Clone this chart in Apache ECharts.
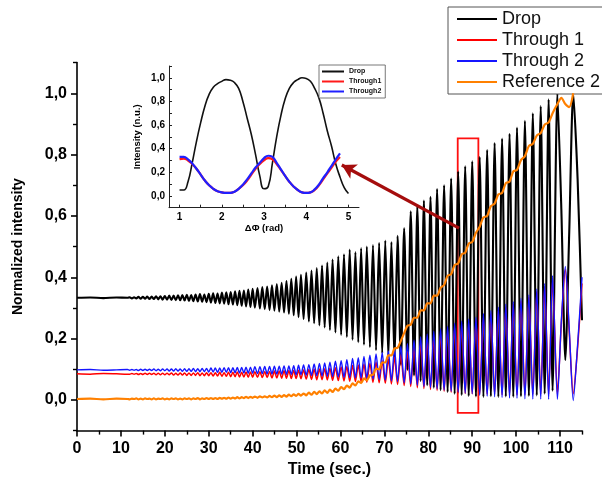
<!DOCTYPE html>
<html>
<head>
<meta charset="utf-8">
<script src="https://cdn.jsdelivr.net/npm/echarts@6/dist/echarts.min.js"></script>
<style>
html,body{margin:0;padding:0;background:#fff;}
#chart{width:602px;height:486px;}
</style>
</head>
<body>
<div id="chart"></div>
<script>
// ---------- Main chart data (times of successive extrema, seconds) ----------
const tExt = [
  0,3,6,9,11.5,
  12,12.5,13,13.5,14,14.5,15,15.5,16,16.5,17,17.5,18,18.5,19,19.5,20,20.5,21,21.5,22,22.5,23,23.5,24,24.5,25,25.5,26,26.5,27,27.5,28,28.5,29,29.5,30,30.5,31,31.5,32,32.5,33,33.5,34,34.5,35,35.5,36,36.5,37,37.5,38,38.5,39,39.5,40,40.5,
  41.1,41.65,42.2,42.75,43.3,43.85,44.4,44.95,45.5,46.05,46.6,47.15,47.7,48.25,48.8,49.35,49.9,50.45,51.0,51.6,
  52.2,52.8,53.4,54.0,54.6,55.2,55.8,56.4,57.0,57.6,58.2,58.85,
  59.5,60.15,60.8,61.45,62.1,62.75,63.4,64.05,64.7,65.35,66.0,66.7,
  67.4,68.1,68.8,69.5,70.2,70.9,71.6,72.3,73.0,73.75,
  74.5,75.25,76.0,76.75,77.5,78.25,79.0,79.75,80.5,81.25,82.0,82.8,
  83.6,84.4,85.2,86.0,86.8,87.6,88.4,89.2,90.0,90.85,
  91.7,92.55,93.4,94.25,95.1,95.95,96.8,97.65,98.5,99.35,100.2,101.1,
  102.0,102.9,103.8,104.7,105.6,106.5,107.4,108.3,
  109.4,110.3,111.2,112.1,113.0,114.0,115.0
];
const drop = [
  0.333,0.334,0.332,0.334,0.333,
  0.335,0.331,0.335,0.331,0.336,0.330,0.336,0.330,0.337,0.329,0.337,0.329,0.338,0.328,0.338,0.327,0.339,0.327,0.340,0.326,0.340,0.325,0.341,0.325,0.342,0.324,0.343,0.323,0.342,0.322,0.344,0.321,0.345,0.320,0.344,0.319,0.346,0.317,0.348,0.316,0.347,0.315,0.350,0.314,0.351,0.312,0.352,0.311,0.354,0.309,0.356,0.307,0.357,0.305,0.360,0.303,0.362,0.301,
  0.365,0.298,0.368,0.296,0.370,0.293,0.374,0.291,0.378,0.288,0.382,0.285,0.388,0.281,0.395,0.276,0.402,0.270,0.408,0.264,
  0.415,0.256,0.422,0.250,0.430,0.243,0.438,0.236,0.448,0.228,0.458,0.220,
  0.468,0.212,0.475,0.205,0.490,0.196,0.482,0.188,0.495,0.180,0.500,0.172,
  0.505,0.162,0.512,0.152,0.520,0.140,0.515,0.128,0.535,0.115,
  0.560,0.098,0.615,0.080,0.630,0.062,0.650,0.048,0.662,0.040,0.688,0.032,
  0.700,0.026,0.722,0.020,0.745,0.016,0.762,0.013,0.778,0.011,
  0.792,0.010,0.815,0.012,0.838,0.010,0.852,0.011,0.868,0.010,0.888,0.012,
  0.910,0.013,0.935,0.015,0.958,0.020,0.980,0.030,
  1.000,0.620,0.130,0.550,1.000,0.720,0.260
];
const through1 = [
  0.085,0.084,0.086,0.085,0.084,
  0.084,0.086,0.084,0.086,0.083,0.086,0.083,0.087,0.083,0.087,0.083,0.087,0.082,0.087,0.082,0.087,0.082,0.087,0.082,0.088,0.081,0.087,0.081,0.088,0.081,0.088,0.080,0.088,0.080,0.088,0.080,0.089,0.079,0.088,0.079,0.089,0.079,0.089,0.078,0.089,0.078,0.090,0.077,0.089,0.077,0.090,0.076,0.090,0.076,0.091,0.075,0.090,0.075,0.091,0.074,0.091,0.074,0.092,
  0.074,0.092,0.073,0.093,0.073,0.093,0.072,0.094,0.072,0.094,0.071,0.095,0.071,0.096,0.070,0.096,0.070,0.097,0.069,0.098,
  0.068,0.099,0.067,0.100,0.066,0.101,0.066,0.102,0.065,0.103,0.064,0.105,
  0.063,0.107,0.062,0.109,0.061,0.112,0.060,0.114,0.059,0.117,0.058,0.120,
  0.057,0.124,0.056,0.128,0.054,0.134,0.052,0.140,0.050,0.148,
  0.047,0.158,0.044,0.172,0.040,0.185,0.037,0.196,0.034,0.205,0.031,0.215,
  0.028,0.225,0.025,0.235,0.023,0.243,0.021,0.250,0.020,0.258,
  0.019,0.268,0.018,0.280,0.018,0.292,0.017,0.302,0.017,0.312,0.017,0.322,
  0.017,0.335,0.018,0.352,0.018,0.368,0.018,0.392,
  0.020,0.250,0.425,0.220,0.020,0.170,0.380
];
const through2 = [
  0.098,0.099,0.097,0.098,0.099,
  0.097,0.099,0.097,0.099,0.096,0.100,0.096,0.100,0.096,0.100,0.096,0.101,0.095,0.100,0.095,0.101,0.095,0.101,0.094,0.101,0.094,0.102,0.094,0.101,0.093,0.102,0.093,0.102,0.093,0.103,0.092,0.102,0.092,0.103,0.092,0.103,0.091,0.104,0.091,0.104,0.090,0.104,0.090,0.105,0.090,0.105,0.089,0.105,0.089,0.106,0.088,0.106,0.088,0.107,0.087,0.107,0.087,0.108,
  0.086,0.108,0.086,0.109,0.085,0.109,0.085,0.110,0.084,0.110,0.084,0.111,0.083,0.111,0.083,0.112,0.082,0.113,0.082,0.114,
  0.081,0.115,0.080,0.117,0.079,0.119,0.078,0.121,0.077,0.123,0.076,0.126,
  0.075,0.128,0.074,0.131,0.073,0.135,0.072,0.138,0.071,0.142,0.070,0.146,
  0.068,0.150,0.066,0.155,0.064,0.160,0.062,0.167,0.060,0.175,
  0.056,0.183,0.052,0.195,0.048,0.206,0.044,0.215,0.040,0.224,0.036,0.232,
  0.032,0.240,0.028,0.250,0.025,0.257,0.022,0.263,0.020,0.270,
  0.015,0.282,0.012,0.292,0.010,0.302,0.008,0.312,0.006,0.320,0.005,0.332,
  0.004,0.342,0.003,0.362,0.003,0.380,0.002,0.405,
  0.002,0.260,0.435,0.230,-0.002,0.180,0.400
];
const reference2 = [
  0.003,0.004,0.002,0.004,0.003,
  0.002,0.004,0.003,0.005,0.002,0.004,0.002,0.005,0.003,0.004,0.002,0.005,0.002,0.004,0.003,0.005,0.002,0.004,0.002,0.005,0.003,0.005,0.002,0.004,0.002,0.005,0.003,0.005,0.002,0.005,0.003,0.006,0.002,0.005,0.003,0.006,0.003,0.006,0.003,0.006,0.003,0.007,0.004,0.007,0.004,0.008,0.004,0.008,0.005,0.009,0.005,0.009,0.006,0.010,0.006,0.010,0.007,0.011,
  0.007,0.012,0.008,0.012,0.008,0.013,0.009,0.014,0.009,0.015,0.010,0.016,0.011,0.017,0.012,0.018,0.013,0.020,0.014,0.021,
  0.015,0.024,0.017,0.026,0.019,0.028,0.021,0.031,0.023,0.034,0.026,0.037,
  0.030,0.042,0.035,0.047,0.040,0.054,0.047,0.061,0.055,0.070,0.064,0.080,
  0.082,0.102,0.100,0.122,0.122,0.145,0.145,0.168,0.170,0.193,
  0.218,0.242,0.245,0.268,0.268,0.292,0.292,0.315,0.315,0.340,0.340,0.366,
  0.375,0.405,0.410,0.440,0.445,0.475,0.480,0.510,0.515,0.545,
  0.565,0.595,0.600,0.632,0.640,0.670,0.675,0.707,0.712,0.745,0.750,0.782,
  0.795,0.828,0.835,0.862,0.870,0.898,0.905,0.935,
  0.965,0.985,0.965,0.955,1.000,null,null
];

// ---------- Inset data (phase in rad) ----------
const insetPhase = [1.0,1.1,1.2,1.3,1.4,1.5,1.6,1.7,1.8,1.9,2.0,2.1,2.2,2.3,2.4,2.5,2.6,2.7,2.8,2.9,3.0,3.1,3.2,3.3,3.4,3.5,3.6,3.7,3.8,3.9,4.0,4.1,4.2,4.3,4.4,4.5,4.6,4.7,4.8,4.9,5.0];
const insetDrop = [0.05,0.05,0.12,0.28,0.46,0.62,0.76,0.86,0.92,0.95,0.97,0.985,0.98,0.96,0.91,0.80,0.66,0.52,0.35,0.17,0.06,0.08,0.28,0.50,0.68,0.82,0.91,0.96,0.985,1.0,0.995,0.97,0.91,0.83,0.70,0.55,0.42,0.27,0.16,0.07,0.02];
const insetThrough1 = [0.31,0.315,0.30,0.27,0.23,0.18,0.13,0.09,0.06,0.04,0.03,0.025,0.025,0.035,0.06,0.09,0.13,0.18,0.23,0.27,0.30,0.32,0.31,0.27,0.22,0.17,0.12,0.08,0.05,0.03,0.025,0.03,0.05,0.09,0.14,0.19,0.24,0.29,0.33];
const insetThrough2 = [0.33,0.33,0.31,0.275,0.23,0.18,0.13,0.09,0.06,0.04,0.03,0.025,0.025,0.035,0.06,0.095,0.14,0.19,0.24,0.28,0.32,0.34,0.33,0.28,0.225,0.17,0.12,0.08,0.05,0.03,0.025,0.03,0.055,0.095,0.15,0.20,0.255,0.31,0.36];

// ---------- Ticks ----------
const xMajorTicks = [0,10,20,30,40,50,60,70,80,90,100,110];
const xMinorTicks = [5,15,25,35,45,55,65,75,85,95,105,115];
const yMajorTicks = [0,0.2,0.4,0.6,0.8,1.0];
const yMinorTicks = [-0.1,0.1,0.3,0.5,0.7,0.9,1.1];
const insetXLabels = [1,2,3,4,5];
const insetXTicks = [1,1.5,2,2.5,3,3.5,4,4.5,5];
const insetYTicks = [-0.1,0,0.1,0.2,0.3,0.4,0.5,0.6,0.7,0.8,0.9,1.0,1.1];

// ---------- Annotations (data coordinates) ----------
const arrowFrom = [87.0, 0.56];
const arrowTo = [60.3, 0.766];
const boxCorner1 = [86.7, 0.853];
const boxCorner2 = [91.4, -0.042];

const FONT = 'Liberation Sans, Arial, sans-serif';
const comma = v => Number(v).toFixed(1).replace('.', ',');
function pairs(xs, ys){
  const out = [];
  for (let i = 0; i < ys.length; i++) if (ys[i] !== null) out.push([xs[i], ys[i]]);
  return out;
}

const chart = echarts.init(document.getElementById('chart'), null, {renderer:'canvas'});
const mainLine = (name, data, color, w, z, extra) => Object.assign({
  name, type:'line', xAxisIndex:0, yAxisIndex:0, data, showSymbol:false, symbol:'none',
  smooth:0.25, sampling:null, z, color,
  lineStyle:{color, width:w}, emphasis:{disabled:true}
}, extra||{});
const insetLine = (name, data, color, w, z) => ({
  name, type:'line', xAxisIndex:2, yAxisIndex:2, data, showSymbol:false, symbol:'none',
  smooth:true, z, color, lineStyle:{color, width:w}, emphasis:{disabled:true}
});

const option = {
  animation:false,
  backgroundColor:'#ffffff',
  textStyle:{fontFamily:FONT},
  grid:[
    {left:77, top:62.6, width:505, height:368},
    {left:169, top:66, width:190, height:141.7}
  ],
  xAxis:[
    {gridIndex:0, type:'value', min:0, max:115, position:'bottom', offset:0,
     axisLine:{show:true, onZero:false, lineStyle:{color:'#000', width:1.6}},
     axisTick:{show:true, inside:false, length:6, customValues:xMajorTicks, lineStyle:{color:'#000', width:1.6}},
     axisLabel:{show:true, customValues:xMajorTicks, margin:10, color:'#000', fontSize:16, fontWeight:'bold', fontFamily:FONT},
     splitLine:{show:false},
     name:'Time (sec.)', nameLocation:'middle', nameGap:30,
     nameTextStyle:{color:'#000', fontSize:16, fontWeight:'bold', fontFamily:FONT}},
    {gridIndex:0, type:'value', min:0, max:115, position:'bottom', offset:0,
     axisLine:{show:false, onZero:false},
     axisTick:{show:true, inside:false, length:4, customValues:xMinorTicks, lineStyle:{color:'#000', width:1.4}},
     axisLabel:{show:false}, splitLine:{show:false}},
    {gridIndex:1, type:'value', min:0.75, max:5.25, position:'bottom', offset:0,
     axisLine:{show:true, onZero:false, lineStyle:{color:'#222', width:1}},
     axisTick:{show:true, inside:true, length:3, customValues:insetXTicks, lineStyle:{color:'#222', width:1}},
     axisLabel:{show:true, customValues:insetXLabels, margin:5, color:'#000', fontSize:10, fontWeight:'bold', fontFamily:FONT},
     splitLine:{show:false},
     name:'\u0394\u03A6 (rad)', nameLocation:'middle', nameGap:16,
     nameTextStyle:{color:'#000', fontSize:9.5, fontWeight:'bold', fontFamily:FONT}}
  ],
  yAxis:[
    {gridIndex:0, type:'value', min:-0.1, max:1.1, position:'left', offset:0,
     axisLine:{show:true, onZero:false, lineStyle:{color:'#000', width:1.6}},
     axisTick:{show:true, inside:false, length:6, customValues:yMajorTicks, lineStyle:{color:'#000', width:1.6}},
     axisLabel:{show:true, customValues:yMajorTicks, formatter:comma, margin:10, color:'#000', fontSize:16, fontWeight:'bold', fontFamily:FONT},
     splitLine:{show:false},
     name:'Normalized intensity', nameLocation:'middle', nameGap:52, nameRotate:90,
     nameTextStyle:{color:'#000', fontSize:14, fontWeight:'bold', fontFamily:FONT}},
    {gridIndex:0, type:'value', min:-0.1, max:1.1, position:'left', offset:0,
     axisLine:{show:false, onZero:false},
     axisTick:{show:true, inside:false, length:4, customValues:yMinorTicks, lineStyle:{color:'#000', width:1.4}},
     axisLabel:{show:false}, splitLine:{show:false}},
    {gridIndex:1, type:'value', min:-0.1, max:1.1, position:'left', offset:0,
     axisLine:{show:true, onZero:false, lineStyle:{color:'#222', width:1}},
     axisTick:{show:true, inside:true, length:3, customValues:insetYTicks, lineStyle:{color:'#222', width:1}},
     axisLabel:{show:true, customValues:yMajorTicks, formatter:comma, margin:4, color:'#000', fontSize:10, fontWeight:'bold', fontFamily:FONT},
     splitLine:{show:false},
     name:'Intensity (n.u.)', nameLocation:'middle', nameGap:27, nameRotate:90,
     nameTextStyle:{color:'#000', fontSize:9.5, fontWeight:'bold', fontFamily:FONT}}
  ],
  legend:[
    {data:['Drop','Through 1','Through 2','Reference 2'], orient:'vertical', left:448, top:7,
     icon:'rect', itemWidth:40, itemHeight:2, itemGap:3, padding:[3,14,3,9],
     backgroundColor:'#fff', borderColor:'#555', borderWidth:1, selectedMode:false,
     textStyle:{fontSize:18, color:'#111', fontFamily:FONT, lineHeight:18}},
    {data:['Drop ','Through1','Through2'], orient:'vertical', left:319, top:65,
     icon:'rect', itemWidth:22, itemHeight:2, itemGap:1, padding:[2,4,2,3],
     backgroundColor:'#fff', borderColor:'#555', borderWidth:0.8, selectedMode:false,
     textStyle:{fontSize:7, color:'#111', fontWeight:'bold', fontFamily:FONT, lineHeight:9}}
  ],
  series:[
    mainLine('Drop', pairs(tExt, drop), '#000000', 2.1, 2),
    mainLine('Through 1', pairs(tExt, through1), '#ff0000', 1.5, 3, {
      markArea:{silent:true, label:{show:false},
        itemStyle:{color:'rgba(0,0,0,0)', borderColor:'#ff1010', borderWidth:1.8},
        data:[[{coord:boxCorner1},{coord:boxCorner2}]]}
    }),
    mainLine('Through 2', pairs(tExt, through2), '#1515ff', 1.4, 4),
    mainLine('Reference 2', pairs(tExt, reference2), '#ff8000', 2.2, 5, {
      markLine:{silent:true, symbol:['none','arrow'], symbolSize:[12,14], label:{show:false},
        lineStyle:{color:'#a50d0d', width:3.2, type:'solid'},
        data:[[{coord:arrowFrom},{coord:arrowTo}]]}
    }),
    insetLine('Drop ', pairs(insetPhase, insetDrop), '#111111', 1.6, 2),
    insetLine('Through1', pairs(insetPhase, insetThrough1), '#ff1a1a', 2.2, 3),
    insetLine('Through2', pairs(insetPhase, insetThrough2), '#2020ff', 2.2, 4)
  ]
};
chart.setOption(option);
</script>
</body>
</html>
